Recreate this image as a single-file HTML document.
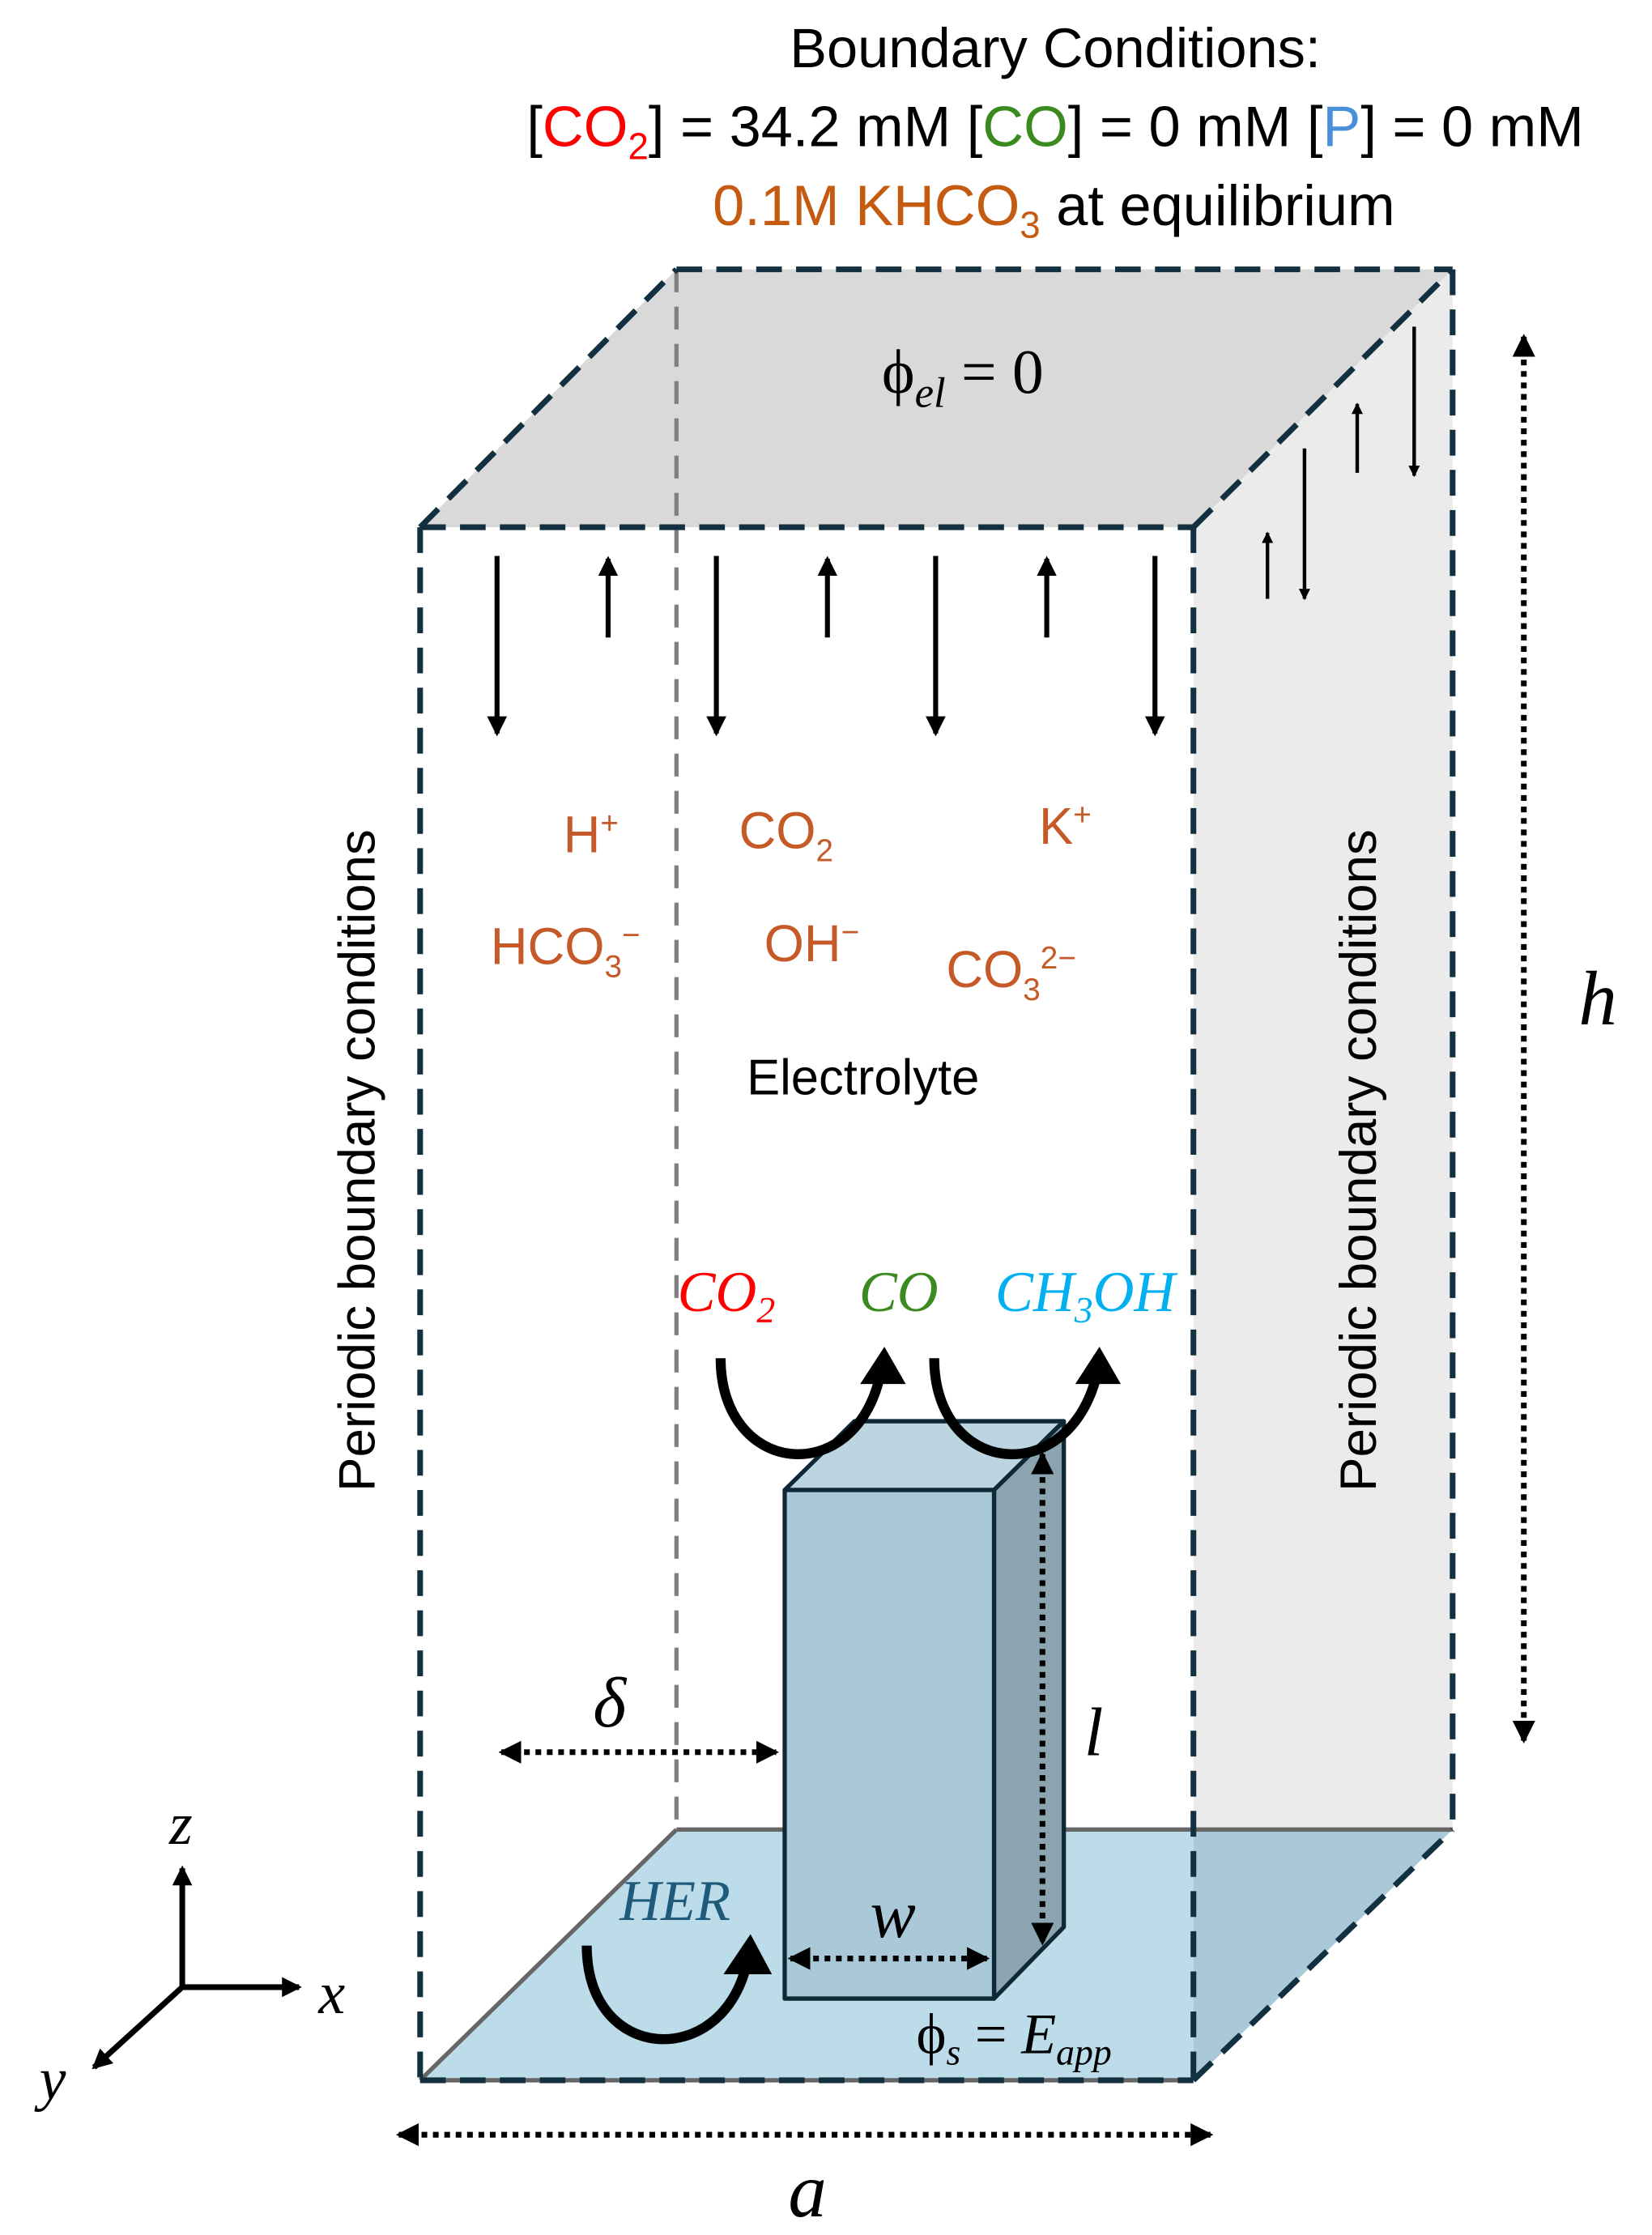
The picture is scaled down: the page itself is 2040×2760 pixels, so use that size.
<!DOCTYPE html>
<html><head><meta charset="utf-8"><style>
html,body{margin:0;padding:0;background:#fff;}
svg{display:block;}
</style></head><body>
<svg width="2040" height="2760" viewBox="0 0 1160 1560" preserveAspectRatio="none" xmlns="http://www.w3.org/2000/svg">
<defs>
<marker id="ah" markerWidth="8" markerHeight="8" refX="7" refY="4" orient="auto" markerUnits="userSpaceOnUse"><path d="M0,0 L8,4 L0,8 z" fill="#000"/></marker>
<marker id="ahb" markerWidth="14" markerHeight="14" refX="12" refY="7" orient="auto" markerUnits="userSpaceOnUse"><path d="M0,0 L14,7 L0,14 z" fill="#000"/></marker>
<marker id="ahs" markerWidth="16" markerHeight="16" refX="14" refY="8" orient="auto-start-reverse" markerUnits="userSpaceOnUse"><path d="M0,0 L16,8 L0,16 z" fill="#000"/></marker>
</defs>
<rect width="1160" height="1560" fill="#fff"/>
<polygon points="295,368 475,188 1020,188 838,368" fill="#d9d9d9"/>
<polygon points="838,368 1020,188 1020,1277 838,1452" fill="#ebebeb"/>
<polygon points="295,1452 475,1277 838,1277 838,1452" fill="#bcdcea"/>
<polygon points="838,1277 1020,1277 838,1452" fill="#a9c8d8"/>
<line x1="475" y1="1277" x2="1020" y2="1277" stroke="#666" stroke-width="3"/>
<line x1="295" y1="1452" x2="475" y2="1277" stroke="#666" stroke-width="3"/>
<line x1="295" y1="1452" x2="838" y2="1452" stroke="#666" stroke-width="3"/>
<line x1="475" y1="188" x2="475" y2="1277" stroke="#808080" stroke-width="3" stroke-dasharray="16,10"/>
<g stroke="#12303f" stroke-width="4" fill="none" stroke-dasharray="18,10">
<line x1="475" y1="188" x2="1020" y2="188"/>
<line x1="295" y1="368" x2="838" y2="368"/>
<line x1="295" y1="368" x2="475" y2="188"/>
<line x1="838" y1="368" x2="1020" y2="188"/>
<line x1="295" y1="368" x2="295" y2="1452"/>
<line x1="838" y1="368" x2="838" y2="1452"/>
<line x1="1020" y1="188" x2="1020" y2="1277"/>
<line x1="295" y1="1452" x2="838" y2="1452"/>
<line x1="838" y1="1452" x2="1020" y2="1277"/>
</g>
<g stroke="#000" stroke-width="3.5">
<line x1="349" y1="388" x2="349" y2="512" marker-end="url(#ahb)"/>
<line x1="503" y1="388" x2="503" y2="512" marker-end="url(#ahb)"/>
<line x1="657" y1="388" x2="657" y2="512" marker-end="url(#ahb)"/>
<line x1="811" y1="388" x2="811" y2="512" marker-end="url(#ahb)"/>
<line x1="427" y1="445" x2="427" y2="390" marker-end="url(#ahb)"/>
<line x1="581" y1="445" x2="581" y2="390" marker-end="url(#ahb)"/>
<line x1="735" y1="445" x2="735" y2="390" marker-end="url(#ahb)"/>
</g>
<g stroke="#000" stroke-width="2.5">
<line x1="953" y1="330" x2="953" y2="282" marker-end="url(#ah)"/>
<line x1="993" y1="228" x2="993" y2="332" marker-end="url(#ah)"/>
<line x1="916" y1="313" x2="916" y2="418" marker-end="url(#ah)"/>
<line x1="890" y1="418" x2="890" y2="372" marker-end="url(#ah)"/>
</g>
<g stroke="#0f2836" stroke-width="3" stroke-linejoin="round">
<polygon points="551,1040 600,992 747,992 698,1040" fill="#bcd5e0"/>
<polygon points="698,1040 747,992 747,1345 698,1395" fill="#8ba4b0"/>
<rect x="551" y="1040" width="147" height="355" fill="#a9c8d8"/>
</g>
<g stroke="#000" stroke-width="4" stroke-dasharray="4,4" fill="none">
<line x1="1070" y1="235" x2="1070" y2="1215" marker-start="url(#ahs)" marker-end="url(#ahs)"/>
<line x1="352" y1="1223" x2="545" y2="1223" marker-start="url(#ahs)" marker-end="url(#ahs)"/>
<line x1="555" y1="1367" x2="693" y2="1367" marker-start="url(#ahs)" marker-end="url(#ahs)"/>
<line x1="732" y1="1015" x2="732" y2="1356" marker-start="url(#ahs)" marker-end="url(#ahs)"/>
<line x1="280" y1="1490" x2="850" y2="1490" marker-start="url(#ahs)" marker-end="url(#ahs)"/>
</g>
<g stroke="#000" stroke-width="7" fill="none">
<path d="M506,948 C506,1030 600,1040 618,960"/>
<path d="M656,948 C656,1030 750,1040 770,960"/>
<path d="M412,1358 C412,1440 506,1445 524,1372"/>
</g>
<polygon points="604,966 621,940 636,966" fill="#000"/>
<polygon points="755,966 772,940 787,966" fill="#000"/>
<polygon points="508,1378 527,1350 542,1378" fill="#000"/>
<g stroke="#000" stroke-width="4">
<line x1="128" y1="1387" x2="128" y2="1304" marker-end="url(#ahb)"/>
<line x1="128" y1="1387" x2="210" y2="1387" marker-end="url(#ahb)"/>
<line x1="128" y1="1387" x2="66" y2="1443" marker-end="url(#ahb)"/>
</g>
<g font-family="Liberation Sans, sans-serif" text-anchor="middle">
<text x="741" y="47" font-size="39">Boundary Conditions:</text>
<text x="741" y="102" font-size="40">[<tspan fill="#ff0000">CO<tspan font-size="26" dy="9">2</tspan></tspan><tspan dy="-9">] = 34.2 mM [</tspan><tspan fill="#3a8a20">CO</tspan>] = 0 mM  [<tspan fill="#4a90d9">P</tspan>] = 0 mM</text>
<text x="740" y="157" font-size="40"><tspan fill="#c55a11">0.1M KHCO<tspan font-size="26" dy="9">3</tspan></tspan><tspan dy="-9"> at equilibrium</tspan></text>
<g fill="#c55a28" font-size="36">
<text x="415" y="595">H<tspan font-size="22" dy="-13">+</tspan></text>
<text x="552" y="592">CO<tspan font-size="22" dy="9">2</tspan></text>
<text x="748" y="589">K<tspan font-size="22" dy="-13">+</tspan></text>
<text x="397" y="673">HCO<tspan font-size="22" dy="9">3</tspan><tspan font-size="22" dy="-22">−</tspan></text>
<text x="570" y="671">OH<tspan font-size="22" dy="-13">−</tspan></text>
<text x="710" y="689">CO<tspan font-size="22" dy="9">3</tspan><tspan font-size="22" dy="-22">2−</tspan></text>
</g>
<text x="606" y="764" font-size="35">Electrolyte</text>
<text transform="translate(263,810) rotate(-90)" font-size="36">Periodic boundary conditions</text>
<text transform="translate(966,810) rotate(-90)" font-size="36">Periodic boundary conditions</text>
</g>
<g font-family="Liberation Serif, serif" text-anchor="middle" font-style="italic">
<text x="676" y="274" font-size="44" font-style="normal">ϕ<tspan font-style="italic" font-size="30" dy="10">el</tspan><tspan dy="-10"> = 0</tspan></text>
<text x="510" y="915" font-size="40" fill="#ff0000">CO<tspan font-size="26" dy="8">2</tspan></text>
<text x="631" y="915" font-size="40" fill="#3a8a20">CO</text>
<text x="762" y="915" font-size="40" fill="#00b0f0">CH<tspan font-size="26" dy="8">3</tspan><tspan dy="-8">OH</tspan></text>
<text x="474" y="1340" font-size="40" fill="#1f5a7a">HER</text>
<text x="712" y="1433" font-size="40" font-style="normal">ϕ<tspan font-style="italic" font-size="26" dy="8">s</tspan><tspan dy="-8" font-style="normal"> = </tspan><tspan font-style="italic">E</tspan><tspan font-style="italic" font-size="26" dy="8">app</tspan></text>
<text x="1122" y="715" font-size="54">h</text>
<text x="428" y="1205" font-size="50">δ</text>
<text x="627" y="1352" font-size="48">w</text>
<text x="768" y="1225" font-size="48">l</text>
<text x="567" y="1547" font-size="54">a</text>
<text x="127" y="1287" font-size="42">z</text>
<text x="233" y="1405" font-size="42">x</text>
<text x="37" y="1465" font-size="42">y</text>
</g>
</svg>
</body></html>
